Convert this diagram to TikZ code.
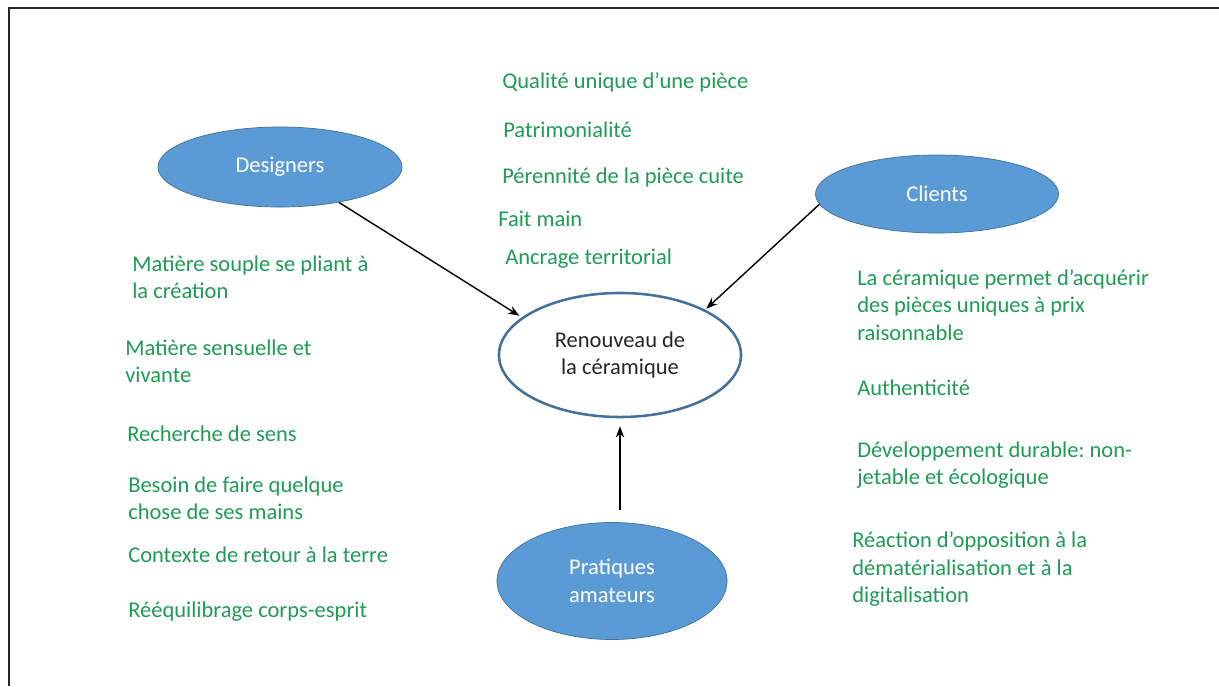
\documentclass[tikz,border=0pt]{standalone}
\usepackage{fontspec}
\setmainfont{Carlito}
\usepackage{xcolor}
\usepackage{tikz}
\usetikzlibrary{arrows.meta, positioning, shapes.geometric}
\definecolor{vert}{RGB}{30,155,85}
\definecolor{bleu}{HTML}{5B9BD5}
\definecolor{bleufonce}{HTML}{41719C}
\frenchspacing
\tikzset{
  acteur/.style={ellipse, fill=bleu, draw=bleufonce, line width=0.5pt, text=white, align=center, inner sep=0pt},
  centre/.style={ellipse, fill=white, draw=bleufonce, line width=1.8pt, text=black!85, align=center, inner sep=0pt},
  idee/.style={anchor=west, text=vert, align=left, inner sep=0pt},
  fleche/.style={black, line width=1pt, -{Stealth[length=8pt, width=6pt]}},
}

\begin{document}
\begin{tikzpicture}[x=0.025cm, y=-0.025cm, font=\fontsize{16}{19.5}\selectfont]
\useasboundingbox (0,0) rectangle (1219,686);
\draw[line width=1.5pt, black!85] (9,686) -- (9,8) -- (1219,8);

\node[centre, minimum width=6.05cm, minimum height=3.1cm] (renouveau) at (620, 355) {Renouveau de\\la céramique};
\node[acteur, minimum width=6.1cm, minimum height=2cm] (designers) at (280, 167) {Designers};
\node[acteur, minimum width=6.075cm, minimum height=1.95cm] (clients) at (937, 194) {Clients};
\node[acteur, minimum width=5.75cm, minimum height=2.925cm] (pratiques) at (612, 581) {Pratiques\\amateurs};

% valeurs au centre
\node[idee] (qualite) at (502, 82) {Qualité unique d’une pièce};
\node[idee] (patrimoine) at (503, 130) {Patrimonialité};
\node[idee] (perennite) at (502, 177) {Pérennité de la pièce cuite};
\node[idee] (faitmain) at (498, 219) {Fait main};
\node[idee] (ancrage) at (505, 259) {Ancrage territorial};

% cote designers
\node[idee] (souple) at (132, 277) {Matière souple se pliant à\\la création};
\node[idee] (sensuelle) at (125, 361) {Matière sensuelle et\\vivante};
\node[idee] (sens) at (127, 434) {Recherche de sens};
\node[idee] (mains) at (128, 498) {Besoin de faire quelque\\chose de ses mains};
\node[idee] (terre) at (128, 555) {Contexte de retour à la terre};
\node[idee] (equilibre) at (128, 612) {Rééquilibrage corps-esprit};

% cote clients
\node[idee] (prix) at (857, 305) {La céramique permet d’acquérir\\des pièces uniques à prix\\raisonnable};
\node[idee] (authentique) at (857, 388) {Authenticité};
\node[idee] (durable) at (857, 465) {Développement durable: non-\\jetable et écologique};
\node[idee] (opposition) at (852, 569) {Réaction d’opposition à la\\dématérialisation et à la\\digitalisation};

\draw[fleche, shorten >=2pt] (designers.-31) -- (renouveau.159);
\draw[fleche, shorten >=1pt] (clients.185) -- (renouveau.28);
\draw[fleche, shorten <=0.3cm, shorten >=0.2cm] (renouveau.south |- pratiques.north) -- (renouveau.south);
\end{tikzpicture}
\end{document}
